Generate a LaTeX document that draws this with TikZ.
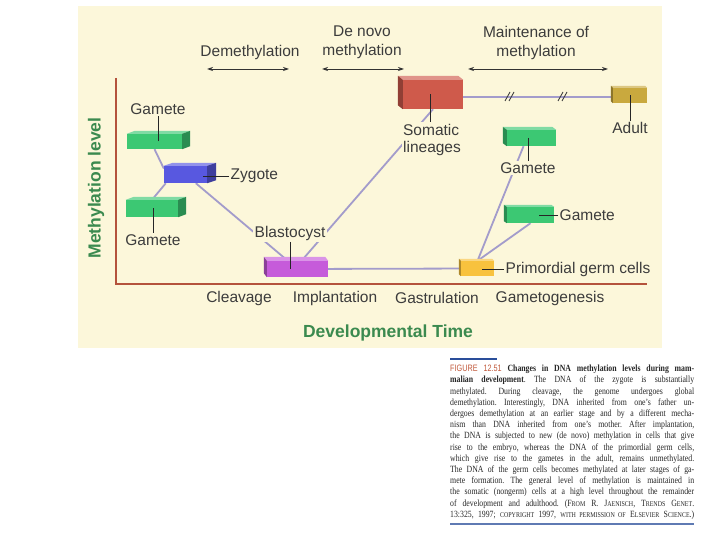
\documentclass[tikz,border=0pt]{standalone}
\usepackage{fontspec}
\setmainfont{Liberation Sans}
\newfontfamily\capserif[FakeStretch=0.82]{Liberation Serif}
\newfontfamily\figsans[FakeStretch=0.78]{Liberation Sans}
\usetikzlibrary{arrows.meta,calc,backgrounds}
\definecolor{bg}{HTML}{FCF7DA}
\definecolor{axisc}{HTML}{B4533C}
\definecolor{greenlab}{HTML}{3B8A4F}
\definecolor{txtc}{HTML}{3C3C3C}
\definecolor{linkc}{HTML}{A39CCB}
\definecolor{gamc}{HTML}{3CC873}
\definecolor{zygc}{HTML}{5858E0}
\definecolor{somc}{HTML}{CF5A4B}
\definecolor{adc}{HTML}{C9A93E}
\definecolor{blc}{HTML}{C65BDA}
\definecolor{prc}{HTML}{F8C23E}
\definecolor{figblue}{HTML}{2A4E9A}
\definecolor{figred}{HTML}{C0583A}
\newcommand\drawcube[9]{%
 \node[cubenode, fill=#6, minimum width=#4pt, minimum height=#5pt] (#1) at (#2,#3) {};
 \fill[#6!65!white] (#1.north west) -- (#1.north east) -- ++(#7pt,#8pt) -- ([shift={(#7pt,#8pt)}]#1.north west) -- cycle;
 \fill[#6!70!black] (#1.north #9) -- ++(#7pt,#8pt) -- ([shift={(#7pt,#8pt)}]#1.south #9) -- (#1.south #9) -- cycle;
}
\newcommand\capsc[1]{{\fontsize{7.3}{11.2}\selectfont #1}}
\tikzset{
 cubenode/.style={rectangle, draw=none, inner sep=0pt},
 link/.style={draw=linkc, line width=1.8pt},
 tick/.style={draw=black!85, line width=0.8pt},
 lab/.style={font=\fontsize{15.5}{17}\selectfont, text=txtc, fill=bg, inner sep=1.5pt},
 toplab/.style={font=\fontsize{15.5}{19}\selectfont, text=txtc, align=center, inner sep=0pt},
 dbl/.style={draw=black!80, line width=0.8pt, {Stealth[length=6pt,width=4pt]}-{Stealth[length=6pt,width=4pt]}},
 brk/.style={draw=black!75, line width=0.9pt},
 axisline/.style={draw=axisc, line width=1.6pt},
 glab/.style={font=\bfseries\fontsize{17.5}{20}\selectfont, text=greenlab, inner sep=0pt}
}
\begin{document}
\begin{tikzpicture}[x=1pt,y=-1pt]
\useasboundingbox (0,0) rectangle (720,540);
% cubes
\drawcube{gL1}{154.5}{141.5}{55}{15}{gamc}{8}{3}{east}
\drawcube{gL2}{152}{208.5}{52}{17}{gamc}{8}{3}{east}
\drawcube{zyg}{185.5}{174.5}{43}{17}{zygc}{9}{3}{east}
\drawcube{soma}{433}{94.5}{60}{29}{somc}{-5}{4}{west}
\drawcube{adult}{630}{95.5}{34}{15}{adc}{-2}{2}{west}
\drawcube{gR1}{531.5}{138}{49}{16}{gamc}{-4}{3}{west}
\drawcube{gR2}{530.5}{215}{47}{16}{gamc}{-3}{2}{west}
\drawcube{prim}{477.5}{268.5}{33}{15}{prc}{-2}{2}{west}
\drawcube{blast}{297.5}{269}{61}{16}{blc}{-3}{4}{west}
\coordinate (adL) at ([yshift=-1.5pt]adult.west);
\begin{pgfonlayer}{background}
 \fill[bg] (78,6) rectangle (662,348);
 \draw[axisline] (116,78) -- (116,284) -- (647,284);
 \draw[link] (gL1.south) -- ([yshift=6pt]zyg.west);
 \draw[link] (gL2.north) -- ([xshift=2pt]zyg.south west);
 \draw[link] (zyg) -- (blast);
 \draw[link] ([xshift=4pt]blast.north) -- (soma.south);
 \draw[link] (blast) -- (prim);
 \draw[link] (prim.north) -- ([xshift=-8pt]gR1.south);
 \draw[link] (prim.north) -- (gR2.south);
 \draw[link] (soma.east |- adL) -- (adL);
\end{pgfonlayer}
\foreach \bx in {510,563} {
 \draw[brk] (\bx-5,101) -- (\bx,92);
 \draw[brk] (\bx-1,101) -- (\bx+4,92);
}
% labels
\node[lab] (labGL1) at (158,109) {Gamete};
\node[lab] (labGL2) at (153,240) {Gamete};
\node[lab, anchor=west] (labZyg) at (229,176) {Zygote};
\node[lab] (labBl) at (290,233) {Blastocyst};
\node[lab, align=left, font=\fontsize{15.5}{17}\selectfont] (labSom) at (432,139.5) {Somatic\\lineages};
\node[lab] (labAd) at (630,128) {Adult};
\node[lab] (labGR1) at (528,168) {Gamete};
\node[lab, anchor=west] (labGR2) at (558,215) {Gamete};
\node[lab, anchor=west] (labPr) at (504,269) {Primordial germ cells};
% ticks
\draw[tick] (labGL1.south |- gL1.center) -- (labGL1.south);
\draw[tick] (labGL2.north |- gL2.center) -- (labGL2.north);
\draw[tick] (labZyg.west) -- ++(-26,0);
\draw[tick] (labBl.south) -- (labBl.south |- blast.center);
\draw[tick] ([xshift=-3pt]soma.center) -- ([xshift=-3pt]soma.center |- labSom.north);
\draw[tick] (adult.center) -- (adult.center |- labAd.north);
\draw[tick] (labGR1.north |- gR1.center) -- (labGR1.north);
\draw[tick] (labGR2.west) -- ++(-19,0);
\draw[tick] (labPr.west) -- ++(-22,0);
% top phases
\node[toplab] (tDem) at (250,52) {Demethylation};
\node[toplab] (tDen) at (362,42.5) {De novo\\methylation};
\node[toplab] (tMai) at (536,42.5) {Maintenance of\\methylation};
\draw[dbl] (207,69) -- (289,69);
\draw[dbl] (322,69) -- (404,69);
\draw[dbl] (468,69) -- (608,69);
% x labels
\node[toplab] (xCl) at (239,298) {Cleavage};
\node[toplab] (xIm) at (335,298) {Implantation};
\node[toplab] (xGa) at (437,298) {Gastrulation};
\node[toplab] (xGm) at (550,298) {Gametogenesis};
\node[glab] (xT) at (388,333) {Developmental Time};
\node[glab, rotate=90] (yT) at (96,188) {Methylation level};
% caption
\draw[figblue, line width=2.5pt] (450,359) -- (497,359);
\draw[figblue!75, line width=1.2pt] (450,524) -- (694,524);
\node[anchor=north west, inner sep=0pt, align=left, text=black!85,
 font=\capserif\fontsize{9.5}{11.2}\selectfont\frenchspacing] (cap) at (450,365) {%
\makebox[244pt][s]{{\figsans\fontsize{9.3}{11.2}\selectfont\color{figred}FIGURE 12.51} \textbf{Changes in DNA methylation levels during mam-}}\\
\makebox[244pt][s]{\textbf{malian development}. The DNA of the zygote is substantially}\\
\makebox[244pt][s]{methylated. During cleavage, the genome undergoes global}\\
\makebox[244pt][s]{demethylation. Interestingly, DNA inherited from one’s father un-}\\
\makebox[244pt][s]{dergoes demethylation at an earlier stage and by a different mecha-}\\
\makebox[244pt][s]{nism than DNA inherited from one’s mother. After implantation,}\\
\makebox[244pt][s]{the DNA is subjected to new (de novo) methylation in cells that give}\\
\makebox[244pt][s]{rise to the embryo, whereas the DNA of the primordial germ cells,}\\
\makebox[244pt][s]{which give rise to the gametes in the adult, remains unmethylated.}\\
\makebox[244pt][s]{The DNA of the germ cells becomes methylated at later stages of ga-}\\
\makebox[244pt][s]{mete formation. The general level of methylation is maintained in}\\
\makebox[244pt][s]{the somatic (nongerm) cells at a high level throughout the remainder}\\
\makebox[244pt][s]{of development and adulthood. (F\capsc{ROM} R. J\capsc{AENISCH}, T\capsc{RENDS} G\capsc{ENET}.}\\
\makebox[244pt][s]{13:325, 1997; \capsc{COPYRIGHT} 1997, \capsc{WITH PERMISSION OF} E\capsc{LSEVIER} S\capsc{CIENCE}.)}};
\end{tikzpicture}
\end{document}
